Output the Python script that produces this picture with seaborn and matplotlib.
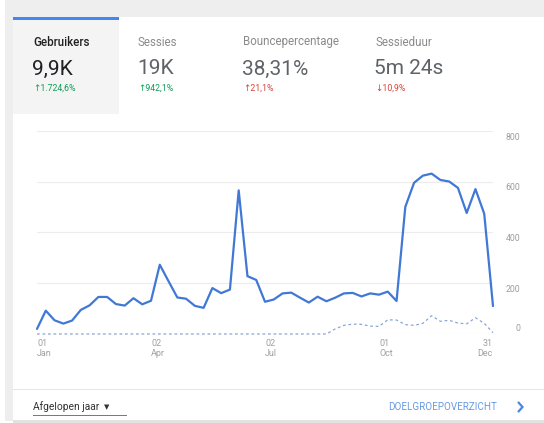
import numpy as np
import pandas as pd
import matplotlib
matplotlib.use("Agg")
import matplotlib.pyplot as plt
from matplotlib.patches import Rectangle
from matplotlib.lines import Line2D
import matplotlib.transforms as mtransforms
import seaborn as sns

# ---------------- data ----------------
week_index = list(range(53))
users = [20, 92, 54, 41, 53, 95, 113, 146, 146, 118, 112, 141, 117, 131,
         273, 208, 144, 139, 111, 103, 181, 161, 175, 566, 228, 213, 127,
         136, 160, 163, 143, 124, 147, 129, 143, 160, 162, 148, 160, 155,
         167, 130, 501, 596, 624, 632, 607, 601, 576, 477, 571, 474, 110]
previous = [0] * 34 + [20, 34, 39, 38, 31, 30, 56, 55, 37, 34, 42, 72, 50,
                       54, 43, 40, 64, 42, 5]
y_ticks = [0, 200, 400, 600, 800]
x_tick_days = [0, 91, 182, 273, 364]
x_tick_days_lbl = ["01", "02", "02", "01", "31"]
x_tick_months = ["Jan", "Apr", "Jul", "Oct", "Dec"]

metric_names = ["Gebruikers", "Sessies", "Bouncepercentage", "Sessieduur"]
metric_values = ["9,9K", "19K", "38,31%", "5m 24s"]
metric_changes = ["\u21911.724,6%", "\u2191942,1%", "\u219121,1%", "\u219310,9%"]
metric_good = [True, True, False, False]

footer_left = "Afgelopen jaar"
footer_right = "DOELGROEPOVERZICHT"

df = pd.DataFrame({"day": [7 * i for i in week_index],
                   "users": users, "previous": previous})

# ---------------- style ----------------
sns.set_style("white")
plt.rcParams["font.family"] = ["Roboto", "DejaVu Sans"]

W, H = 544, 423
fig = plt.figure(figsize=(W / 100, H / 100), dpi=100)
fig.patch.set_facecolor("white")

def fx(x):
    return x / W

def fy(y):
    return 1 - y / H

def rect(x0, y0, x1, y1, color, z=0):
    fig.patches.append(Rectangle((fx(x0), fy(y1)), fx(x1) - fx(x0), fy(y0) - fy(y1),
                                 transform=fig.transFigure, facecolor=color,
                                 edgecolor="none", zorder=z))

# background / card
rect(5, 0, W, 17, "#eeeeee")
rect(5, 0, 13, 421, "#eeeeee")
rect(13, 420, W, 423, "#e2e2e2")
rect(13, 114, 119, 17, "#f4f4f4")
rect(13, 17, 119, 20, "#4285f4")
rect(13, 389, W, 390, "#e6e6e6")

# header metrics
xs = [33, 138, 243, 375]
for i in range(4):
    sel = i == 0
    fig.text(fx(xs[i]), fy(42), metric_names[i], fontsize=8.3,
             color="#212121" if sel else "#8a8a8a",
             fontweight="medium" if sel else "normal", va="center", ha="left")
    fig.text(fx(xs[i] - 1), fy(69), metric_values[i], fontsize=15,
             color="#202124" if sel else "#5f6368", fontweight="normal",
             va="center", ha="left")
    fig.text(fx(xs[i]), fy(88), metric_changes[i], fontsize=6.3,
             color="#0f9d58" if metric_good[i] else "#db4437",
             va="center", ha="left")

# ---------------- chart ----------------
x0, x1, ytop, ybot = 37, 493, 131, 334
ax = fig.add_axes([fx(x0), fy(ybot), fx(x1) - fx(x0), (ybot - ytop) / H])
ax.set_facecolor("none")

sns.lineplot(data=df, x="day", y="previous", ax=ax, color="#8aa6d6",
             linewidth=0.9, linestyle=(0, (2.2, 2.2)), clip_on=False, zorder=3)
sns.lineplot(data=df, x="day", y="users", ax=ax, color="#4178d6",
             linewidth=1.6, clip_on=False, zorder=4)

ax.set_xlim(0, 364)
ax.set_ylim(0, 800)
ax.set_yticks(y_ticks)
ax.set_yticklabels([])
ax.yaxis.grid(True, color="#ececec", linewidth=0.8)
ax.xaxis.grid(False)
ax.set_xticks(x_tick_days)
ax.set_xticklabels([])
ax.tick_params(axis="x", length=3, width=0.6, color="#d0d0d0", direction="out")
ax.tick_params(axis="y", length=0)
ax.set_xlabel("")
ax.set_ylabel("")
for s in ax.spines.values():
    s.set_visible(False)

# y labels on right
ytr = ax.get_yaxis_transform()
for v in y_ticks:
    off = 6 if v == 0 else -6
    tr = mtransforms.offset_copy(ytr, fig=fig, x=0, y=off, units="dots")
    ax.text((520 - x0) / (x1 - x0), v, str(v), transform=tr, ha="right",
            va="center", fontsize=6.3, color="#9e9e9e")

# x labels
xtr = ax.get_xaxis_transform()
trx = mtransforms.offset_copy(xtr, fig=fig, x=0, y=-5, units="dots")
for j, d in enumerate(x_tick_days):
    ha = "right" if j == len(x_tick_days) - 1 else "left"
    ax.text(d, 0, x_tick_days_lbl[j] + "\n" + x_tick_months[j], transform=trx,
            ha=ha, va="top", fontsize=6.5, color="#a0a0a0", linespacing=1.15,
            multialignment=ha)

# ---------------- footer ----------------
fy_text = 407
fig.text(fx(33), fy(fy_text), footer_left, fontsize=7.4, color="#333333",
         va="center", ha="left")
fig.text(fx(104), fy(fy_text), "\u25BC", fontsize=5, color="#333333",
         va="center", ha="left", family=["DejaVu Sans"])
rect(33, 414.5, 127, 415.8, "#4a80d8", z=2)
fig.text(fx(388), fy(fy_text), footer_right, fontsize=7.1, color="#6a9be0",
         va="center", ha="left")
fig.lines.append(Line2D([fx(518.5), fx(522.5), fx(518.5)],
                        [fy(fy_text - 4.5), fy(fy_text), fy(fy_text + 4.5)],
                        transform=fig.transFigure, color="#4a86e8",
                        linewidth=1.6, solid_joinstyle="miter"))

fig.savefig("out.png", dpi=100)
